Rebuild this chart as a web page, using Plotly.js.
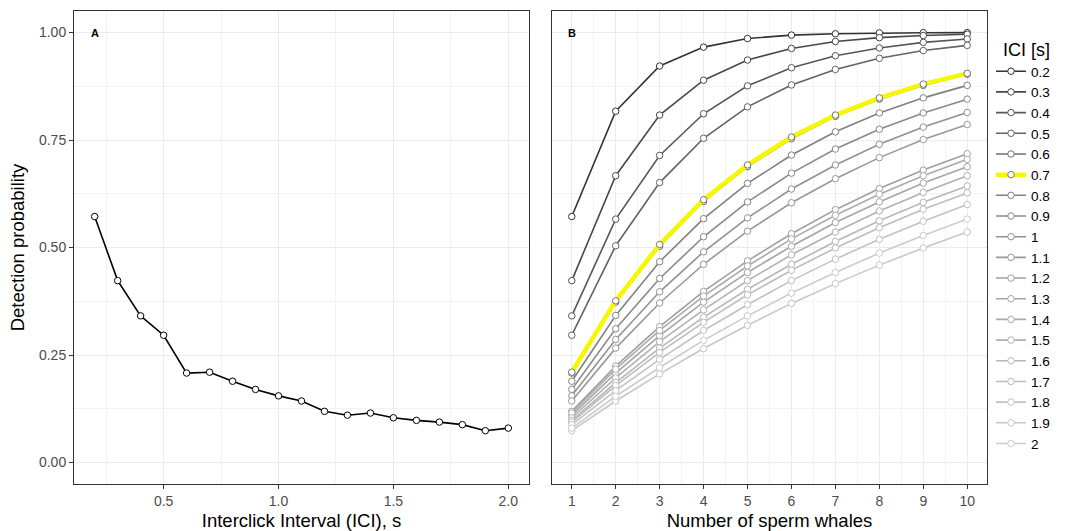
<!DOCTYPE html>
<html>
<head>
<meta charset="utf-8">
<script src="https://cdn.plot.ly/plotly-3.0.1.min.js"></script>
<style>html,body{margin:0;padding:0;background:#fff;}#chart{width:1065px;height:531px;}</style>
</head>
<body>
<div id="chart"></div>
<script>
// ---- Data ----
const iciValues = [0.2,0.3,0.4,0.5,0.6,0.7,0.8,0.9,1.0,1.1,1.2,1.3,1.4,1.5,1.6,1.7,1.8,1.9,2.0];
const detectionProbA = [0.572,0.423,0.341,0.296,0.208,0.210,0.189,0.170,0.155,0.143,0.119,0.110,0.115,0.104,0.098,0.094,0.088,0.074,0.080];

const whaleCounts = [1,2,3,4,5,6,7,8,9,10];
const iciLabels = ['0.2','0.3','0.4','0.5','0.6','0.7','0.8','0.9','1','1.1','1.2','1.3','1.4','1.5','1.6','1.7','1.8','1.9','2'];

const pB_0_2 = [0.572,0.817,0.922,0.966,0.986,0.994,0.997,0.999,0.9995,0.9998];
const pB_0_3 = [0.423,0.667,0.808,0.889,0.936,0.963,0.979,0.988,0.993,0.996];
const pB_0_4 = [0.341,0.566,0.714,0.811,0.876,0.918,0.946,0.964,0.977,0.985];
const pB_0_5 = [0.296,0.504,0.651,0.754,0.827,0.878,0.914,0.940,0.958,0.970];
const pB_0_6 = [0.208,0.373,0.503,0.607,0.688,0.753,0.805,0.845,0.877,0.903];
const pB_0_7 = [0.210,0.376,0.507,0.611,0.692,0.757,0.808,0.848,0.880,0.905];
const pB_0_8 = [0.189,0.342,0.467,0.567,0.649,0.715,0.769,0.813,0.848,0.877];
const pB_0_9 = [0.170,0.311,0.428,0.525,0.606,0.673,0.729,0.775,0.813,0.845];
const pB_1_0 = [0.155,0.286,0.397,0.490,0.569,0.636,0.692,0.740,0.780,0.814];
const pB_1_1 = [0.143,0.266,0.371,0.461,0.538,0.604,0.660,0.709,0.751,0.786];
const pB_1_2 = [0.119,0.224,0.316,0.398,0.469,0.532,0.588,0.637,0.680,0.718];
const pB_1_3 = [0.110,0.208,0.295,0.373,0.442,0.503,0.558,0.606,0.650,0.688];
const pB_1_4 = [0.115,0.217,0.307,0.387,0.457,0.520,0.575,0.624,0.667,0.705];
const pB_1_5 = [0.104,0.197,0.281,0.355,0.423,0.483,0.536,0.585,0.628,0.667];
const pB_1_6 = [0.098,0.186,0.266,0.338,0.403,0.461,0.514,0.562,0.605,0.643];
const pB_1_7 = [0.094,0.179,0.256,0.326,0.390,0.447,0.499,0.546,0.589,0.627];
const pB_1_8 = [0.088,0.167,0.240,0.307,0.367,0.423,0.473,0.519,0.561,0.600];
const pB_1_9 = [0.074,0.143,0.206,0.265,0.319,0.370,0.416,0.459,0.499,0.536];
const pB_2_0 = [0.080,0.154,0.221,0.284,0.341,0.394,0.442,0.487,0.528,0.566];

const seriesB = [pB_0_2,pB_0_3,pB_0_4,pB_0_5,pB_0_6,pB_0_7,pB_0_8,pB_0_9,pB_1_0,pB_1_1,
                 pB_1_2,pB_1_3,pB_1_4,pB_1_5,pB_1_6,pB_1_7,pB_1_8,pB_1_9,pB_2_0];
const highlightLabel = '0.7';

// ---- Styles ----
const greys = ['#333333','#484848','#575757','#636363','#6e6e6e','#787878','#818181','#898989','#919191','#989898',
               '#9f9f9f','#a5a5a5','#ababab','#b1b1b1','#b7b7b7','#bdbdbd','#c2c2c2','#c7c7c7','#cccccc'];
const FONT = '"Liberation Sans", Arial, sans-serif';

const traces = [];
traces.push({
  x: iciValues, y: detectionProbA, type: 'scatter', mode: 'lines+markers',
  xaxis: 'x', yaxis: 'y', showlegend: false, hoverinfo: 'x+y',
  line: {color: '#000000', width: 1.6},
  marker: {size: 6.5, color: '#ffffff', line: {color: '#000000', width: 1}}
});
seriesB.forEach((vals, i) => {
  const hl = iciLabels[i] === highlightLabel;
  traces.push({
    x: whaleCounts, y: vals, type: 'scatter', mode: 'lines+markers',
    xaxis: 'x2', yaxis: 'y2', name: iciLabels[i],
    line: {color: hl ? '#f7f700' : greys[i], width: hl ? 4.5 : 1.6},
    marker: {size: 6.5, color: '#ffffff', line: {color: greys[i], width: 1}}
  });
});

const gridMajor = '#ebebeb', gridMinor = '#f3f3f3';
const commonAxis = {
  showline: true, mirror: true, linecolor: '#333333', linewidth: 1,
  ticks: 'outside', ticklen: 4, tickwidth: 1, tickcolor: '#333333',
  showgrid: true, gridcolor: gridMajor, gridwidth: 1, zeroline: false,
  tickfont: {family: FONT, size: 14, color: '#4d4d4d'}
};
const yDomain = [1 - 484/531, 1 - 11/531];
const titleFont = {family: FONT, size: 18.5, color: '#000'};

const layout = {
  width: 1065, height: 531,
  margin: {l: 0, r: 0, t: 0, b: 0},
  paper_bgcolor: '#ffffff', plot_bgcolor: '#ffffff',
  showlegend: true,
  font: {family: FONT},
  xaxis: Object.assign({}, commonAxis, {
    domain: [74/1065, 529/1065], range: [0.11, 2.09], anchor: 'y',
    tickvals: [0.5, 1.0, 1.5, 2.0], ticktext: ['0.5','1.0','1.5','2.0'],
    minor: {tickvals: [0.25, 0.75, 1.25, 1.75], showgrid: true, gridcolor: gridMinor, gridwidth: 1, ticks: ''},
    title: {text: 'Interclick Interval (ICI), s', font: titleFont, standoff: 10}
  }),
  yaxis: Object.assign({}, commonAxis, {
    domain: yDomain, range: [-0.05, 1.05], anchor: 'x',
    tickvals: [0, 0.25, 0.5, 0.75, 1.0], ticktext: ['0.00','0.25','0.50','0.75','1.00'],
    minor: {tickvals: [0.125, 0.375, 0.625, 0.875], showgrid: true, gridcolor: gridMinor, gridwidth: 1, ticks: ''},
    title: {text: 'Detection probability', font: titleFont, standoff: 9}
  }),
  xaxis2: Object.assign({}, commonAxis, {
    domain: [552/1065, 987/1065], range: [0.55, 10.45], anchor: 'y2',
    tickvals: whaleCounts, ticktext: whaleCounts.map(String),
    minor: {tickvals: [1.5,2.5,3.5,4.5,5.5,6.5,7.5,8.5,9.5], showgrid: true, gridcolor: gridMinor, gridwidth: 1, ticks: ''},
    title: {text: 'Number of sperm whales', font: titleFont, standoff: 10}
  }),
  yaxis2: Object.assign({}, commonAxis, {
    domain: yDomain, range: [-0.05, 1.05], anchor: 'x2',
    tickvals: [0, 0.25, 0.5, 0.75, 1.0], showticklabels: false, ticks: '',
    minor: {tickvals: [0.125, 0.375, 0.625, 0.875], showgrid: true, gridcolor: gridMinor, gridwidth: 1, ticks: ''}
  }),
  legend: {
    x: 991/1065, xanchor: 'left', y: 1 - 32.5/531, yanchor: 'top',
    bgcolor: 'rgba(0,0,0,0)', borderwidth: 0,
    font: {family: FONT, size: 13.6, color: '#000'},
    title: {text: '&nbsp;&nbsp;ICI [s]', font: {family: FONT, size: 18, color: '#000'}},
    itemwidth: 30, tracegroupgap: 0, itemclick: false, itemdoubleclick: false
  },
  annotations: [
    {x: 0.2, y: 1.0, xref: 'x', yref: 'y', text: '<b>A</b>', showarrow: false,
     font: {family: FONT, size: 11, color: '#000'}, xanchor: 'center', yanchor: 'middle'},
    {x: 1, y: 1.0, xref: 'x2', yref: 'y2', text: '<b>B</b>', showarrow: false,
     font: {family: FONT, size: 11, color: '#000'}, xanchor: 'center', yanchor: 'middle'}
  ]
};

Plotly.newPlot('chart', traces, layout, {staticPlot: true, displayModeBar: false});
</script>
</body>
</html>
